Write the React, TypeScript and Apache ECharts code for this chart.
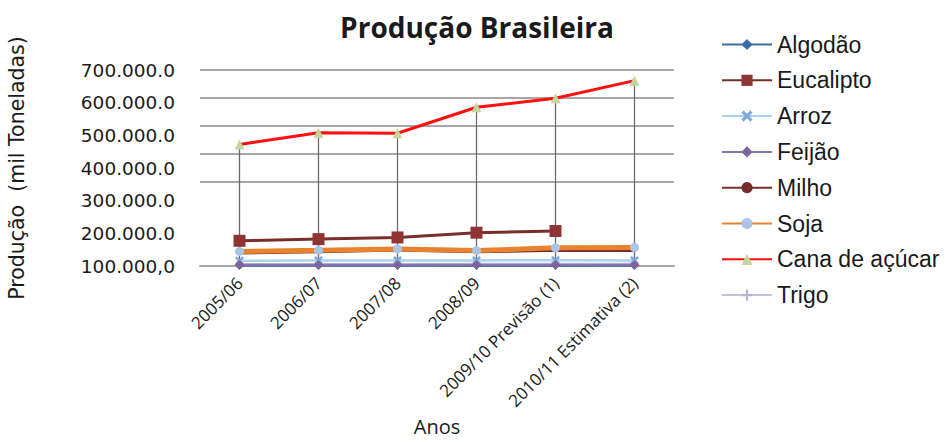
import React, { useEffect, useRef } from "react";
import * as echarts from "echarts";

const categories = [
  "2005/06",
  "2006/07",
  "2007/08",
  "2008/09",
  "2009/10 Previsão (1)",
  "2010/11 Estimativa (2)",
];

const algodao = [1500, 1600, 1700, 1300, 1300, 1800];
const eucalipto = [90000, 96000, 102000, 119000, 125000, null];
const arroz = [19000, 19500, 20000, 20000, 20500, 20000];
const feijao = [3500, 3300, 3200, 3500, 3300, 3200];
const milho = [46000, 51000, 57000, 51000, 56000, 55000];
const soja = [52000, 56000, 61000, 55000, 65000, 66000];
const cana = [434000, 476000, 474000, 567000, 599000, 662000];
const trigo = [6000, 6500, 6000, 7000, 7500, 7000];

const yLabelTicks = { min: 100000, max: 700000, step: 100000 };
const yDataAxis = { min: 0, max: 700000, step: 100000 };

const xSymbol =
  "path://M2,0 L5,3 L8,0 L10,2 L7,5 L10,8 L8,10 L5,7 L2,10 L0,8 L3,5 L0,2 Z";
const plusSymbol =
  "path://M4,0 L6,0 L6,4 L10,4 L10,6 L6,6 L6,10 L4,10 L4,6 L0,6 L0,4 L4,4 Z";

function fmtY(v: number): string {
  const k = Math.round(v / 1000);
  if (v === yLabelTicks.min) return `${k}.000,0`;
  return `${k}.000.0`;
}

export default function App() {
  const ref = useRef<HTMLDivElement>(null);
  useEffect(() => {
    if (!ref.current) return;
    const chart = echarts.init(ref.current, undefined, { renderer: "svg" });
    const gridColor = "#a6a6a6";
    const none = "rgba(0,0,0,0)";
    chart.setOption({
      animation: false,
      backgroundColor: "#ffffff",
      title: {
        text: "Produção Brasileira",
        left: 472,
        top: 8,
        textAlign: "center",
        textStyle: {
          fontFamily: "Open Sans",
          fontWeight: "bold",
          fontSize: 28,
          color: "#1a1a1a",
        },
      },
      legend: {
        orient: "vertical",
        left: 716,
        top: 28,
        itemWidth: 50,
        itemHeight: 14,
        itemGap: 12.8,
        textStyle: {
          fontFamily: "Liberation Sans",
          fontSize: 23,
          lineHeight: 22,
          color: "#1a1a1a",
        },
      },
      grid: { left: 200, right: 274, top: 70, bottom: 176, containLabel: false },
      xAxis: {
        type: "category",
        data: categories,
        boundaryGap: true,
        name: "Anos",
        nameLocation: "middle",
        nameGap: 150,
        nameTextStyle: {
          fontFamily: "Open Sans",
          fontSize: 20,
          color: "#1a1a1a",
        },
        axisLine: { show: true, lineStyle: { color: gridColor, width: 2 } },
        axisTick: { show: false },
        axisLabel: {
          rotate: 45,
          margin: 14,
          fontFamily: "Open Sans",
          fontSize: 17,
          color: "#1a1a1a",
          interval: 0,
        },
      },
      yAxis: [
        {
          type: "value",
          min: yDataAxis.min,
          max: yDataAxis.max,
          interval: yDataAxis.step,
          name: "Produção  (mil Toneladas)",
          nameLocation: "middle",
          nameGap: 173,
          nameRotate: 90,
          nameTextStyle: {
            fontFamily: "DejaVu Sans",
            fontSize: 20.5,
            color: "#1a1a1a",
          },
          axisLine: { show: false },
          axisTick: { show: false },
          axisLabel: { show: false },
          splitLine: {
            show: true,
            lineStyle: {
              color: [gridColor, none, none, gridColor, gridColor, gridColor, gridColor, gridColor],
              width: 2,
            },
          },
        },
        {
          type: "value",
          position: "left",
          min: yLabelTicks.min,
          max: yLabelTicks.max,
          interval: yLabelTicks.step,
          axisLine: { show: false },
          axisTick: { show: false },
          splitLine: { show: false },
          axisLabel: {
            formatter: fmtY,
            margin: 25,
            fontFamily: "DejaVu Sans",
            fontSize: 18.5,
            color: "#1a1a1a",
          },
        },
      ],
      series: [
        {
          name: "Algodão",
          type: "line",
          data: algodao,
          color: "#3a6ea8",
          symbol: "diamond",
          symbolSize: 8,
          lineStyle: { width: 2.5 },
          z: 4,
        },
        {
          name: "Eucalipto",
          type: "line",
          data: eucalipto,
          color: "#8e3432",
          symbol: "rect",
          symbolSize: 12,
          lineStyle: { width: 3, color: "#7a2e2c" },
          z: 5,
        },
        {
          name: "Arroz",
          type: "line",
          data: arroz,
          color: "#4bacc6",
          symbol: xSymbol,
          symbolSize: 9,
          itemStyle: { color: "#7fa9d8" },
          lineStyle: { width: 2.5, color: "#a9d2ee" },
          z: 3,
        },
        {
          name: "Feijão",
          type: "line",
          data: feijao,
          color: "#7e649e",
          symbol: "diamond",
          symbolSize: 10,
          lineStyle: { width: 2.5, color: "#8572b0" },
          z: 4,
        },
        {
          name: "Milho",
          type: "line",
          data: milho,
          color: "#772c2a",
          symbol: "none",
          lineStyle: { width: 3 },
          z: 3,
        },
        {
          name: "Soja",
          type: "line",
          data: soja,
          color: "#f79646",
          symbol: "circle",
          symbolSize: 9,
          itemStyle: { color: "#a9c4e4" },
          lineStyle: { width: 5, color: "#e9822e" },
          z: 4,
        },
        {
          name: "Cana de açúcar",
          type: "line",
          data: cana,
          color: "#ff0000",
          symbol: "triangle",
          symbolSize: 10,
          itemStyle: { color: "#c3d69b" },
          lineStyle: { width: 3, color: "#ff1010" },
          z: 4,
          markLine: {
            silent: true,
            symbol: "none",
            label: { show: false },
            lineStyle: { color: "#6b6b6b", width: 1.3, type: "solid" },
            z: 1,
            data: categories.map((c, i) => [
              { coord: [c, cana[i]] },
              { coord: [c, 0] },
            ]),
          },
        },
        {
          name: "Trigo",
          type: "line",
          data: trigo,
          color: "#b8b2d4",
          symbol: plusSymbol,
          symbolSize: 8,
          lineStyle: { width: 2.5, color: "#c5bfe0" },
          z: 3,
        },
      ],
    });
    return () => chart.dispose();
  }, []);
  return (
    <div
      ref={ref}
      style={{ position: "fixed", left: 0, top: 0, width: 948, height: 442 }}
    />
  );
}
